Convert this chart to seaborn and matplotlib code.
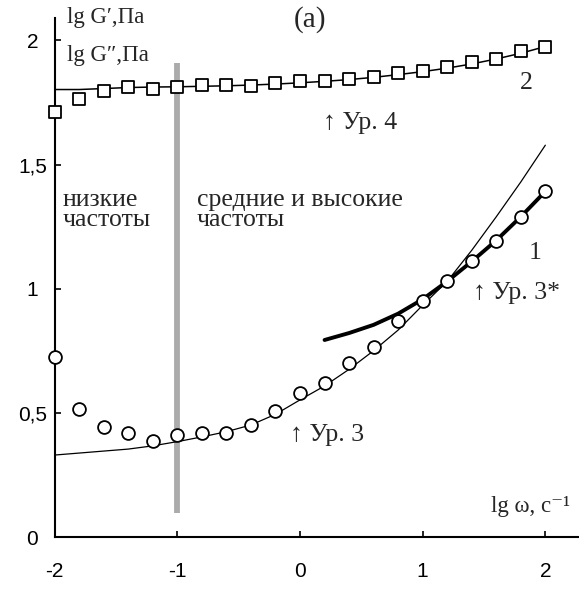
import numpy as np
import pandas as pd
import matplotlib
matplotlib.use("Agg")
import matplotlib.pyplot as plt
import seaborn as sns

# lg(omega) grid of the measurements
lg_w = [-2.0, -1.8, -1.6, -1.4, -1.2, -1.0, -0.8, -0.6, -0.4, -0.2, 0.0,
        0.2, 0.4, 0.6, 0.8, 1.0, 1.2, 1.4, 1.6, 1.8, 2.0]

# measured lg G' (squares, curve 2)
g1_exp = [1.710, 1.763, 1.795, 1.811, 1.803, 1.811, 1.819, 1.819, 1.818, 1.830, 1.836,
          1.835, 1.843, 1.853, 1.869, 1.877, 1.893, 1.913, 1.923, 1.956, 1.973]
# model lg G' (Eq. 4)
g1_fit = [1.802, 1.802, 1.806, 1.810, 1.812, 1.813, 1.815, 1.817, 1.820, 1.824, 1.829,
          1.835, 1.842, 1.851, 1.862, 1.874, 1.888, 1.905, 1.925, 1.948, 1.975]

# measured lg G'' (circles, curve 1)
g2_exp = [0.724, 0.515, 0.444, 0.418, 0.386, 0.411, 0.418, 0.418, 0.450, 0.508, 0.580,
          0.619, 0.700, 0.767, 0.869, 0.950, 1.030, 1.111, 1.192, 1.287, 1.393]
# model lg G'' (Eq. 3)
g2_fit = [0.331, 0.339, 0.347, 0.355, 0.368, 0.385, 0.404, 0.425, 0.452, 0.495, 0.553,
          0.609, 0.676, 0.751, 0.834, 0.934, 1.030, 1.155, 1.290, 1.430, 1.578]
# model lg G'' (Eq. 3*), high frequencies only
lg_w_hi = [0.2, 0.4, 0.6, 0.8, 1.0, 1.2, 1.4, 1.6, 1.8, 2.0]
g2_fit_hi = [0.794, 0.822, 0.855, 0.900, 0.958, 1.030, 1.110, 1.195, 1.290, 1.392]

# boundary between low and mid/high frequencies
boundary = -1.0
boundary_y = (0.098, 1.908)

x_ticks = [-2, -1, 0, 1, 2]
y_ticks = [0, 0.5, 1, 1.5, 2]
y_tick_labels = ["0", "0,5", "1", "1,5", "2"]

df = pd.DataFrame({"lg_w": lg_w, "g1_exp": g1_exp, "g1_fit": g1_fit,
                   "g2_exp": g2_exp, "g2_fit": g2_fit})
df_hi = pd.DataFrame({"lg_w": lg_w_hi, "g2": g2_fit_hi})

sns.set_style("ticks")
plt.rcParams["font.family"] = ["Liberation Sans", "DejaVu Sans"]
serif = ["Liberation Serif", "DejaVu Serif"]

fig = plt.figure(figsize=(5.79, 5.89), dpi=100)
ax = fig.add_axes([0.0945, 0.0878, 0.9035, 0.8817])

# boundary bar
ax.vlines(boundary, *boundary_y, color="#ababab", linewidth=4.2, zorder=1)

# model curves
sns.lineplot(data=df, x="lg_w", y="g1_fit", color="black", linewidth=1.1, ax=ax, zorder=2)
sns.lineplot(data=df, x="lg_w", y="g2_fit", color="black", linewidth=0.9, ax=ax, zorder=2)
sns.lineplot(data=df_hi, x="lg_w", y="g2", color="black", linewidth=2.8, ax=ax, zorder=2)

# experimental points
sns.scatterplot(data=df, x="lg_w", y="g1_exp", marker="s", s=85, facecolor="white",
                edgecolor="black", linewidth=1.3, ax=ax, zorder=3, clip_on=False)
sns.scatterplot(data=df, x="lg_w", y="g2_exp", marker="o", s=85, facecolor="white",
                edgecolor="black", linewidth=1.3, ax=ax, zorder=3, clip_on=False)

ax.set_xlim(-2, 2.265)
ax.set_ylim(0, 2.09)
ax.set_xticks(x_ticks)
ax.set_xticklabels([str(t) for t in x_ticks])
ax.set_yticks(y_ticks)
ax.set_yticklabels(y_tick_labels, ha="center")
ax.tick_params(direction="in", length=4, width=1.2, labelsize=15, colors="black")
ax.tick_params(axis="x", pad=18)
ax.tick_params(axis="y", pad=16)
ax.set_xlabel("")
ax.set_ylabel("")
sns.despine(ax=ax)
for side in ["left", "bottom"]:
    ax.spines[side].set_linewidth(1.5)
    ax.spines[side].set_color("black")

fs = 18.5
fs_ax = 16.5
ax.text(-1.90, 2.093, "lg G′,Па", family=serif, fontsize=fs_ax, va="center", ha="left")
ax.text(-1.90, 1.940, "lg G″,Па", family=serif, fontsize=fs_ax, va="center", ha="left")
ax.text(0.083, 2.083, "(a)", family=serif, fontsize=21, va="center", ha="center")
ax.text(1.844, 1.827, "2", family=serif, fontsize=fs, va="center", ha="center")
ax.text(0.187, 1.666, "↑ Ур. 4", family=serif, fontsize=fs, va="center", ha="left")
ax.text(-1.932, 1.317, "низкие\nчастоты", family=serif, fontsize=fs, va="center",
        ha="left", linespacing=0.92)
ax.text(-0.843, 1.317, "средние и высокие\nчастоты", family=serif, fontsize=fs,
        va="center", ha="left", linespacing=0.92)
ax.text(1.917, 1.144, "1", family=serif, fontsize=fs, va="center", ha="center")
ax.text(1.411, 0.983, "↑ Ур. 3*", family=serif, fontsize=fs, va="center", ha="left")
ax.text(-0.082, 0.411, "↑ Ур. 3", family=serif, fontsize=fs, va="center", ha="left")
ax.text(1.561, 0.122, "lg ω, с⁻¹", family=serif, fontsize=fs_ax, va="center", ha="left")

fig.savefig("out.png", dpi=100)
